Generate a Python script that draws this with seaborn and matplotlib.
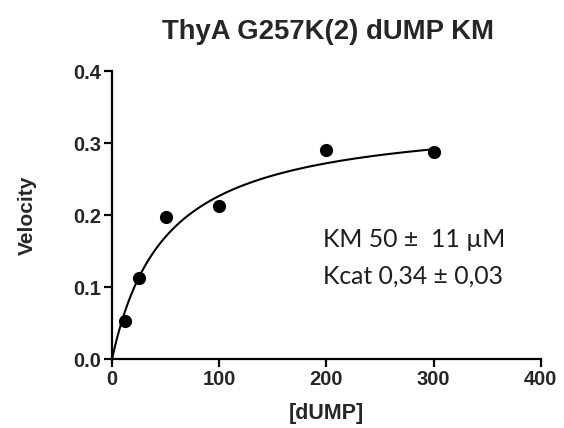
import numpy as np
import pandas as pd
import matplotlib
matplotlib.use("Agg")
import matplotlib.pyplot as plt
import seaborn as sns

# Data
dump_conc = [12.5, 25, 50, 100, 200, 300]
velocity = [0.053, 0.112, 0.198, 0.212, 0.290, 0.287]

# Michaelis-Menten fit parameters shown in the chart
km = 50.0
vmax = 0.34
fit_xmax = 300

x_ticks = [0, 100, 200, 300, 400]
y_ticks = [0.0, 0.1, 0.2, 0.3, 0.4]

sns.set_theme(style="ticks")
plt.rcParams['font.family'] = ['Liberation Sans', 'DejaVu Sans']

fig = plt.figure(figsize=(5.64, 4.28), dpi=100)
ax = fig.add_axes([0.1986, 0.161, 0.7604, 0.673])

pts = pd.DataFrame({"dUMP": dump_conc, "Velocity": velocity})
xs = np.linspace(0, fit_xmax, 400)
fit = pd.DataFrame({"dUMP": xs, "Velocity": vmax * xs / (km + xs)})

sns.lineplot(data=fit, x="dUMP", y="Velocity", ax=ax, color="black", linewidth=1.5)
sns.scatterplot(data=pts, x="dUMP", y="Velocity", ax=ax, color="black", s=90,
                edgecolor="black", linewidth=0, zorder=3, clip_on=False)

ax.set_xlim(0, 400)
ax.set_ylim(0, 0.4)
ax.set_xticks(x_ticks)
ax.set_yticks(y_ticks)
ax.set_xticklabels([str(t) for t in x_ticks], fontweight="bold", fontsize=14.5)
ax.set_yticklabels([f"{t:.1f}" for t in y_ticks], fontweight="bold", fontsize=14.5)
ax.tick_params(axis="both", direction="out", length=5.5, width=1.6, color="black", pad=2)
for s in ["top", "right"]:
    ax.spines[s].set_visible(False)
for s in ["left", "bottom"]:
    ax.spines[s].set_linewidth(1.6)
    ax.spines[s].set_color("black")

ax.set_xlabel("[dUMP]", fontweight="bold", fontsize=15.5)
ax.set_ylabel("Velocity", fontweight="bold", fontsize=15)
ax.xaxis.set_label_coords(0.5, -0.152)
ax.xaxis.label.set_va("top")
ax.yaxis.set_label_coords(-0.175, 0.5)
fig.text(0.582, 0.908, "ThyA G257K(2) dUMP KM", fontweight="bold", fontsize=19.8,
         ha="center", va="baseline")

ax.text(197, 0.1557, "KM 50 \u00b1  11 \u00b5M", fontsize=17.8, family=["Lato", "DejaVu Sans"],
        color="#1e1e1e", va="baseline", ha="left")
ax.text(197, 0.1055, "Kcat 0,34 \u00b1 0,03", fontsize=17.8, family=["Lato", "DejaVu Sans"],
        color="#1e1e1e", va="baseline", ha="left")

fig.savefig("out.png", dpi=100)
